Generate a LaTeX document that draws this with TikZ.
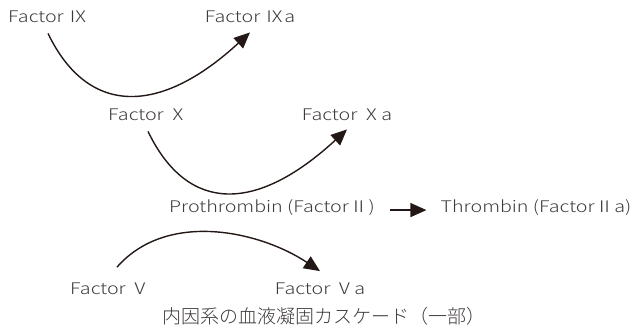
\documentclass[tikz,border=0pt]{standalone}
\usepackage{fontspec}
\setmainfont{Noto Sans CJK JP}[UprightFont=* Light]
\usepackage{tikz}
\usetikzlibrary{positioning, arrows.meta}
\definecolor{cgText}{RGB}{62, 58, 57}
\definecolor{cgInk}{RGB}{35, 24, 21}
\tikzset{
    base/.style={
        text=cgText,
        inner sep=0pt,
        anchor=base
    },
    factor/.style={
        base,
        font=\fontsize{16}{18}\selectfont\addfontfeatures{FakeStretch=1.23}
    },
    caption/.style={
        base,
        font=\fontsize{19}{21}\selectfont
    },
    cascade/.style={
        -{Triangle[length=16pt, width=14pt]},
        line width=1.4pt,
        color=cgInk
    }
}

\begin{document}
\begin{tikzpicture}[x=1pt, y=-1pt]
    \useasboundingbox (0,0) rectangle (638,331);

    % Factor IX
    \node[factor] (f9) at (48,23) {Factor Ⅸ};
    \node[factor] (f9a) at (250,23) {Factor Ⅸa};
    \draw[cascade] ([yshift=-10pt]f9.south) .. controls +(40,83) and +(-90,83) .. ([yshift=-9pt]f9a.south);

    % Factor X
    \node[factor] (f10) at (148,121) {Factor Ⅹ};
    \node[factor] (f10a) at (347,121) {Factor Ⅹa};
    \draw[cascade] ([yshift=-10pt]f10.south) .. controls +(40,83) and +(-90,83) .. ([yshift=-8pt]f10a.south);

    % Prothrombin
    \node[factor] (f2) at (272,213) {Prothrombin (FactorⅡ)};
    \node[factor] (f2a) at (536,213) {Thrombin (FactorⅡa)};
    \draw[cascade] ([xshift=15pt, yshift=-2pt]f2.east) -- ([xshift=-14pt, yshift=-2pt]f2a.west);

    % Factor V
    \node[factor] (f5) at (110,295) {Factor Ⅴ};
    \node[factor] (f5a) at (320,295) {Factor Ⅴa};
    \draw[cascade] ([xshift=7pt, yshift=16pt]f5.north) .. controls +(50,-57) and +(-60,-40) .. ([yshift=12pt]f5a.north);

    % caption
    \node[caption] (cap) at (324,324) {内因系の血液凝固カスケード（一部）};
\end{tikzpicture}
\end{document}
